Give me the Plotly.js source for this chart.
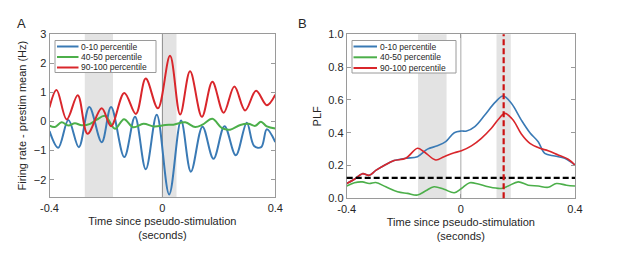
<!DOCTYPE html>
<html>
<head>
<meta charset="utf-8">
<script src="https://cdn.plot.ly/plotly-3.0.1.min.js"></script>
<style>
  html, body { margin: 0; padding: 0; background: #fff; }
  #fig { width: 617px; height: 255px; }
</style>
</head>
<body>
<div id="fig"></div>
<script>
// ---- panel A: firing rate - prestim mean (Hz)
var tLowA  = [-0.4, -0.369, -0.333, -0.296, -0.259, -0.215, -0.182, -0.135, -0.097, -0.059, -0.020, 0.024, 0.066, 0.101, 0.142, 0.181, 0.220, 0.260, 0.299, 0.325, 0.350, 0.370, 0.4];
var rateLow = [-0.33, -0.9, 0.05, -0.88, 0.5, -0.71, 0.5, -1.22, 0.16, -1.64, 0.23, -2.5, 0.03, -1.72, -0.18, -1.28, -0.16, -1.16, -0.04, -0.84, -0.88, -0.27, -0.71];

var tMidA  = [-0.4, -0.381, -0.357, -0.333, -0.310, -0.286, -0.256, -0.233, -0.203, -0.168, -0.136, -0.103, -0.067, -0.029, 0.010, 0.039, 0.081, 0.116, 0.142, 0.177, 0.211, 0.240, 0.276, 0.305, 0.329, 0.349, 0.370, 0.4];
var rateMid = [-0.14, -0.19, -0.03, -0.14, -0.06, -0.13, -0.08, 0.06, 0.19, -0.25, 0.08, -0.2, -0.08, -0.17, -0.12, -0.11, -0.03, -0.19, -0.11, 0.09, -0.23, -0.28, -0.12, -0.08, -0.15, -0.01, -0.17, -0.24];

var tHighA = [-0.4, -0.375, -0.339, -0.300, -0.265, -0.215, -0.182, -0.135, -0.094, -0.059, -0.016, 0.027, 0.063, 0.098, 0.140, 0.177, 0.217, 0.255, 0.293, 0.332, 0.370, 0.4];
var rateHigh = [0.48, 1.08, 0.07, 0.9, -0.42, 0.45, -0.16, 0.98, 0.26, 1.47, 0.45, 2.25, 0.24, 1.72, 0.16, 1.36, 0.3, 1.2, 0.38, 1.05, 0.56, 0.92];

// ---- panel B: PLF
var tLowB = [-0.4, -0.373, -0.345, -0.321, -0.298, -0.269, -0.234, -0.193, -0.152, -0.117, -0.082, -0.053, -0.023, 0.002, 0.02, 0.049, 0.084, 0.119, 0.148, 0.177, 0.212, 0.242, 0.271, 0.294, 0.329, 0.364, 0.4];
var plfLow = [0.09, 0.116, 0.15, 0.14, 0.17, 0.2, 0.23, 0.244, 0.254, 0.3, 0.32, 0.345, 0.40, 0.41, 0.41, 0.437, 0.508, 0.583, 0.624, 0.58, 0.477, 0.40, 0.345, 0.274, 0.258, 0.244, 0.203];

var tMidB = [-0.4, -0.373, -0.345, -0.321, -0.298, -0.263, -0.222, -0.187, -0.152, -0.123, -0.094, -0.059, -0.023, 0.002, 0.031, 0.061, 0.096, 0.142, 0.166, 0.201, 0.236, 0.271, 0.306, 0.335, 0.37, 0.4];
var plfMid = [0.075, 0.095, 0.1, 0.09, 0.096, 0.07, 0.04, 0.03, 0.02, 0.046, 0.07, 0.055, 0.034, 0.06, 0.095, 0.087, 0.07, 0.06, 0.075, 0.1, 0.08, 0.075, 0.067, 0.09, 0.08, 0.075];

var tHighB = [-0.4, -0.373, -0.345, -0.321, -0.298, -0.269, -0.234, -0.193, -0.152, -0.129, -0.088, -0.059, -0.023, 0.002, 0.037, 0.072, 0.107, 0.131, 0.154, 0.183, 0.212, 0.242, 0.277, 0.306, 0.341, 0.376, 0.4];
var plfHigh = [0.09, 0.116, 0.15, 0.14, 0.17, 0.2, 0.23, 0.244, 0.305, 0.284, 0.234, 0.254, 0.278, 0.29, 0.32, 0.366, 0.427, 0.48, 0.518, 0.477, 0.392, 0.335, 0.305, 0.29, 0.264, 0.238, 0.203];

var names = ['0-10 percentile', '40-50 percentile', '90-100 percentile'];
var colors = ['#3a7ab5', '#4caf4a', '#d9262b'];

var shadeA = [[-0.275, -0.175], [0, 0.05]];
var shadeB = [[-0.15, -0.05], [0.125, 0.175]];
var chanceLevel = 0.125;
var peakTime = 0.15;

var xTicks = [-0.4, 0, 0.4];
var xTickText = ['-0.4', '0', '0.4'];
var yTicksA = [-2, -1, 0, 1, 2, 3];
var yTicksB = [0, 0.2, 0.4, 0.6, 0.8, 1.0];
var yTickTextB = ['0.0', '0.2', '0.4', '0.6', '0.8', '1.0'];

var W = 617, H = 255;
function px(x) { return x / W; }
function py(y) { return 1 - y / H; }

var font = 'Liberation Sans, Arial, sans-serif';
var ink = '#262626';
var boxColor = '#9a9a9a';

function line(x, y, i, xa, ya, w) {
  return {
    x: x, y: y, name: names[i], type: 'scatter', mode: 'lines',
    xaxis: xa, yaxis: ya, showlegend: false, hoverinfo: 'skip',
    line: {color: colors[i], width: w, shape: 'spline', smoothing: 1.0}
  };
}

var data = [
  line(tLowA, rateLow, 0, 'x', 'y', 2),
  line(tMidA, rateMid, 1, 'x', 'y', 2),
  line(tHighA, rateHigh, 2, 'x', 'y', 2),
  line(tLowB, plfLow, 0, 'x2', 'y2', 1.6),
  line(tMidB, plfMid, 1, 'x2', 'y2', 1.6),
  line(tHighB, plfHigh, 2, 'x2', 'y2', 1.6)
];

function xaxisDef(dom, anchor) {
  return {
    domain: dom, anchor: anchor, range: [-0.4, 0.4],
    tickvals: xTicks, ticktext: xTickText,
    ticks: 'inside', ticklen: 4, tickcolor: boxColor,
    showline: true, linecolor: boxColor, linewidth: 1, mirror: 'ticks',
    showgrid: false, zeroline: false, automargin: false,
    tickfont: {family: font, size: 11, color: ink},
    title: {text: 'Time since pseudo-stimulation<br>(seconds)', standoff: 4,
            font: {family: font, size: 11, color: ink}}
  };
}
function yaxisDef(dom, anchor, range, vals, text, title) {
  var ax = {
    domain: dom, anchor: anchor, range: range, tickvals: vals,
    ticks: 'inside', ticklen: 4, tickcolor: boxColor,
    showline: true, linecolor: boxColor, linewidth: 1, mirror: 'ticks',
    showgrid: false, zeroline: false, automargin: false,
    tickfont: {family: font, size: 11, color: ink},
    title: {text: title, standoff: 4, font: {family: font, size: 11, color: ink}}
  };
  if (text) ax.ticktext = text;
  return ax;
}

var shapes = [];
shadeA.forEach(function (s) {
  shapes.push({type: 'rect', xref: 'x', yref: 'y domain', x0: s[0], x1: s[1], y0: 0, y1: 1,
               fillcolor: '#e3e3e3', line: {width: 0}, layer: 'below'});
});
shadeB.forEach(function (s) {
  shapes.push({type: 'rect', xref: 'x2', yref: 'y2 domain', x0: s[0], x1: s[1], y0: 0, y1: 1,
               fillcolor: '#e3e3e3', line: {width: 0}, layer: 'below'});
});
shapes.push({type: 'line', xref: 'x', yref: 'y domain', x0: 0, x1: 0, y0: 0, y1: 1,
             line: {color: '#8a8a8a', width: 1}, layer: 'below'});
shapes.push({type: 'line', xref: 'x2', yref: 'y2 domain', x0: 0, x1: 0, y0: 0, y1: 1,
             line: {color: '#a8a8a8', width: 1}, layer: 'below'});
shapes.push({type: 'line', xref: 'x2 domain', yref: 'y2', x0: 0, x1: 1, y0: chanceLevel, y1: chanceLevel,
             line: {color: '#000', width: 2.2, dash: '6px,3px'}, layer: 'above'});
shapes.push({type: 'line', xref: 'x2', yref: 'y2 domain', x0: peakTime, x1: peakTime, y0: 0, y1: 1,
             line: {color: '#cc1111', width: 2.2, dash: '6px,3px'}, layer: 'above'});

// hand-drawn legends (MATLAB-style compact boxes)
var annotations = [];
function legendBox(x0, x1, y0, y1, lineX0, lineX1, textX, rows) {
  shapes.push({type: 'rect', xref: 'paper', yref: 'paper', x0: px(x0), x1: px(x1), y0: py(y1), y1: py(y0),
               fillcolor: '#fff', line: {color: boxColor, width: 1}, layer: 'above'});
  names.forEach(function (n, i) {
    shapes.push({type: 'line', xref: 'paper', yref: 'paper', x0: px(lineX0), x1: px(lineX1),
                 y0: py(rows[i]), y1: py(rows[i]), line: {color: colors[i], width: 2}, layer: 'above'});
    annotations.push({xref: 'paper', yref: 'paper', x: px(textX), y: py(rows[i]), text: n,
                      showarrow: false, xanchor: 'left', yanchor: 'middle',
                      font: {family: font, size: 8.5, color: ink}});
  });
}
legendBox(55, 156, 40.5, 72.5, 57, 78.5, 79, [46.5, 57, 67.5]);
legendBox(352, 456, 40.5, 73, 353.5, 377, 377.5, [46.5, 57.3, 68]);

annotations.push({xref: 'paper', yref: 'paper', x: px(15), y: py(14), text: 'A', showarrow: false,
                  font: {family: font, size: 13, color: ink}});
annotations.push({xref: 'paper', yref: 'paper', x: px(302), y: py(14), text: 'B', showarrow: false,
                  font: {family: font, size: 13, color: ink}});

var layout = {
  width: W, height: H,
  margin: {l: 0, r: 0, t: 0, b: 0},
  paper_bgcolor: '#fff', plot_bgcolor: '#fff',
  showlegend: false,
  xaxis: xaxisDef([px(49.5), px(275.3)], 'y'),
  yaxis: yaxisDef([py(197.3), py(34)], 'x', [-2.6, 3], yTicksA, null, 'Firing rate - prestim mean (Hz)'),
  xaxis2: xaxisDef([px(346.7), px(575)], 'y2'),
  yaxis2: yaxisDef([py(198.3), py(34.3)], 'x2', [0, 1], yTicksB, yTickTextB, 'PLF'),
  shapes: shapes,
  annotations: annotations
};

Plotly.newPlot('fig', data, layout, {staticPlot: true});
</script>
</body>
</html>
